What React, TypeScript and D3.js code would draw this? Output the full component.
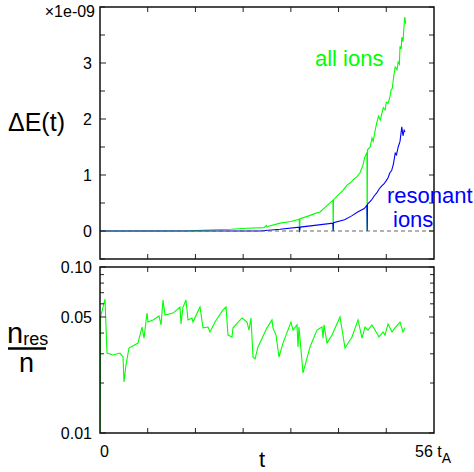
import React from 'react';
import * as d3 from 'd3';

// ---------- data ----------
const timeTicks = [0, 8, 16, 24, 32, 40, 48, 56];
const energyMajor = [0, 1, 2, 3];
const energyMinor = [-0.5, 0.5, 1.5, 2.5, 3.5, 4];
const fracMajor = [0.01, 0.05, 0.1];
const fracMinor = [0.02, 0.03, 0.04, 0.06, 0.07, 0.08, 0.09];
const fracLabels = ['0.01', '0.05', '0.10'];

// all ions energy change (units of 1e-9)
const allT = [0, 10, 15, 19, 22, 24.6, 27.5, 27.9, 28.0, 28.1, 30.2, 32, 33.4, 33.45, 33.55, 35, 36, 36.9, 38, 39.05, 39.1, 39.15, 40, 40.7, 41.4, 42.0, 42.5, 43.1, 43.6, 44.1, 44.4, 44.75, 44.8, 44.85, 45.3, 45.6, 45.8, 46.1, 46.4, 46.7, 47.0, 47.3, 47.5, 47.8, 48.0, 48.3, 48.6, 48.8, 49.0, 49.3, 49.5, 49.8, 50.0, 50.2, 50.3, 50.5, 50.6, 50.8, 51.0, 51.1, 51.25];
const allE = [0, 0, 0.005, 0.02, 0.03, 0.05, 0.06, 0.1, 0.07, 0.08, 0.14, 0.17, 0.21, 0.0, 0.22, 0.27, 0.31, 0.34, 0.45, 0.55, 0.0, 0.56, 0.65, 0.72, 0.82, 0.86, 0.92, 0.97, 1.04, 1.18, 1.32, 1.4, 0.0, 1.45, 1.5, 1.66, 1.6, 1.78, 1.93, 2.05, 1.98, 2.12, 2.2, 2.16, 2.3, 2.28, 2.39, 2.52, 2.55, 2.8, 2.93, 2.88, 3.02, 2.98, 3.3, 3.25, 3.46, 3.38, 3.7, 3.82, 3.7];

// resonant ions energy change (units of 1e-9)
const resT = [0, 26.8, 30.2, 33.4, 33.45, 33.55, 36, 39.05, 39.1, 39.15, 41, 42.2, 43.2, 44.3, 44.75, 44.8, 44.85, 45.5, 46.0, 46.4, 46.8, 47.2, 47.6, 48.0, 48.3, 48.6, 48.9, 49.2, 49.5, 49.7, 50.0, 50.3, 50.6, 50.8, 51.0, 51.14];
const resE = [0, 0, 0.03, 0.07, -0.02, 0.07, 0.1, 0.14, 0.0, 0.15, 0.2, 0.27, 0.34, 0.4, 0.46, 0.0, 0.48, 0.55, 0.63, 0.68, 0.75, 0.8, 0.84, 0.9, 0.95, 1.04, 1.08, 1.2, 1.39, 1.36, 1.5, 1.6, 1.86, 1.7, 1.8, 1.77];

// fraction of resonant ions
const fracT = [0, 0.1, 0.84, 1.17, 2.18, 3.35, 3.86, 4.02, 4.36, 4.86, 6.37, 7.04, 7.38, 7.88, 8.05, 8.89, 9.89, 10.23, 10.56, 10.9, 12.24, 13.41, 13.58, 13.92, 14.42, 14.75, 15.42, 15.59, 16.77, 17.27, 18.11, 18.44, 19.28, 20.62, 21.13, 21.46, 22.13, 22.3, 23.81, 24.65, 24.98, 25.32, 25.65, 25.99, 26.49, 28.0, 28.84, 29.0, 29.51, 30.01, 30.68, 32.02, 32.36, 33.03, 33.2, 33.36, 34.04, 35.21, 36.38, 37.22, 37.39, 37.56, 38.06, 38.9, 40.24, 41.08, 42.25, 43.26, 43.93, 44.43, 44.93, 45.6, 46.11, 46.78, 47.45, 47.78, 48.29, 48.96, 49.46, 50.3, 50.8, 51.14];
const fracV = [0.008, 0.05, 0.064, 0.0303, 0.0295, 0.0303, 0.0287, 0.0203, 0.0257, 0.0325, 0.0348, 0.0435, 0.0373, 0.0528, 0.0466, 0.048, 0.0507, 0.0448, 0.0633, 0.0514, 0.0528, 0.0574, 0.0454, 0.0574, 0.0633, 0.048, 0.0493, 0.0466, 0.0574, 0.043, 0.0435, 0.0406, 0.0466, 0.0551, 0.0574, 0.0389, 0.0379, 0.043, 0.0493, 0.0466, 0.0417, 0.0493, 0.0287, 0.0279, 0.033, 0.043, 0.048, 0.043, 0.0389, 0.0287, 0.0348, 0.0466, 0.0417, 0.0448, 0.033, 0.0435, 0.023, 0.033, 0.0417, 0.0435, 0.0373, 0.0448, 0.0348, 0.0389, 0.05, 0.0325, 0.0379, 0.048, 0.0373, 0.0435, 0.0417, 0.0448, 0.0417, 0.0379, 0.0406, 0.0389, 0.0454, 0.0406, 0.043, 0.0466, 0.0406, 0.043];

// ---------- layout ----------
const W = 474, H = 472;
const L = 100, R = 434;
const topT = 7, topB = 259;
const botT = 267, botB = 433;
const FONT = "'Liberation Sans', Arial, Helvetica, sans-serif";

export default function App() {
  const x = d3.scaleLinear().domain([0, 56]).range([L, R]);
  const yTop = d3.scaleLinear().domain([-0.5, 4]).range([topB, topT]);
  const yBot = d3.scaleLog().domain([0.01, 0.1]).range([botB, botT]);

  const allPath = d3.line<[number, number]>().x(d => x(d[0])).y(d => yTop(d[1]))(allT.map((t, i) => [t, allE[i]]));
  const resPath = d3.line<[number, number]>().x(d => x(d[0])).y(d => yTop(d[1]))(resT.map((t, i) => [t, resE[i]]));
  const fracPath = d3.line<[number, number]>().x(d => x(d[0])).y(d => yBot(d[1]))(fracT.map((t, i) => [t, fracV[i]]));

  const tickStroke = '#222';
  return (
    <svg width={W} height={H} style={{ position: 'absolute', left: 0, top: 0, background: '#fff' }} fontFamily={FONT}>
      <defs>
        <clipPath id="clipTop"><rect x={L} y={topT} width={R - L} height={topB - topT} /></clipPath>
        <clipPath id="clipBot"><rect x={L} y={botT} width={R - L} height={botB - botT} /></clipPath>
      </defs>

      {/* ---------- top panel ---------- */}
      <g clipPath="url(#clipTop)">
        <path d={allPath || ''} fill="none" stroke="#00ff00" strokeWidth={1.1} />
        <path d={resPath || ''} fill="none" stroke="#0000ff" strokeWidth={1.1} />
        <line x1={L} x2={R} y1={yTop(0)} y2={yTop(0)} stroke="#666" strokeWidth={1.2} strokeDasharray="4,3" />
      </g>
      {timeTicks.slice(1, -1).map(t => (
        <g key={'tt' + t}>
          <line x1={x(t)} x2={x(t)} y1={topT} y2={topT + 5} stroke={tickStroke} />
          <line x1={x(t)} x2={x(t)} y1={topB} y2={topB - 5} stroke={tickStroke} />
        </g>
      ))}
      {energyMajor.map(v => (
        <g key={'em' + v}>
          <line x1={L} x2={L + 6} y1={yTop(v)} y2={yTop(v)} stroke={tickStroke} />
          <line x1={R} x2={R - 5} y1={yTop(v)} y2={yTop(v)} stroke={tickStroke} />
          <text x={92} y={yTop(v) + 6} fontSize={16} textAnchor="end">{v}</text>
        </g>
      ))}
      {energyMinor.map(v => (
        <g key={'en' + v}>
          <line x1={L} x2={L + 5} y1={yTop(v)} y2={yTop(v)} stroke={tickStroke} />
          <line x1={R} x2={R - 5} y1={yTop(v)} y2={yTop(v)} stroke={tickStroke} />
        </g>
      ))}
      <rect x={L} y={topT} width={R - L} height={topB - topT} fill="none" stroke="#111" strokeWidth={1.5} />
      <text x={95} y={17} fontSize={16} textAnchor="end">×1e-09</text>
      <text x={8} y={131} fontSize={25}>ΔE(t)</text>
      <text x={315} y={66} fontSize={22} fill="#00ff00">all ions</text>
      <text x={387} y={203} fontSize={22} fill="#0000ff">resonant</text>
      <text x={393} y={227} fontSize={22} fill="#0000ff">ions</text>

      {/* ---------- bottom panel ---------- */}
      <g clipPath="url(#clipBot)">
        <path d={fracPath || ''} fill="none" stroke="#00ff00" strokeWidth={1.1} />
      </g>
      {timeTicks.slice(1, -1).map(t => (
        <g key={'bt' + t}>
          <line x1={x(t)} x2={x(t)} y1={botT} y2={botT + 5} stroke={tickStroke} />
          <line x1={x(t)} x2={x(t)} y1={botB} y2={botB - 5} stroke={tickStroke} />
        </g>
      ))}
      {fracMajor.map((v, i) => (
        <g key={'fm' + v}>
          <line x1={L} x2={L + 6} y1={yBot(v)} y2={yBot(v)} stroke={tickStroke} />
          <line x1={R} x2={R - 5} y1={yBot(v)} y2={yBot(v)} stroke={tickStroke} />
          <text x={92} y={yBot(v) + 6} fontSize={16} textAnchor="end">{fracLabels[i]}</text>
        </g>
      ))}
      {fracMinor.map(v => (
        <g key={'fn' + v}>
          <line x1={L} x2={L + 4} y1={yBot(v)} y2={yBot(v)} stroke={tickStroke} />
          <line x1={R} x2={R - 4} y1={yBot(v)} y2={yBot(v)} stroke={tickStroke} />
        </g>
      ))}
      <rect x={L} y={botT} width={R - L} height={botB - botT} fill="none" stroke="#111" strokeWidth={1.5} />
      <text x={7} y={343} fontSize={29}>n<tspan fontSize={18} dy={2}>res</tspan></text>
      <line x1={8} x2={46} y1={348.5} y2={348.5} stroke="#000" strokeWidth={2.5} />
      <text x={19} y={372} fontSize={27}>n</text>

      <text x={x(0)} y={457} fontSize={16}>0</text>
      <text x={415} y={457} fontSize={16}>56 t<tspan fontSize={14} dy={6}>A</tspan></text>
      <text x={262} y={467} fontSize={22} textAnchor="middle">t</text>
    </svg>
  );
}
